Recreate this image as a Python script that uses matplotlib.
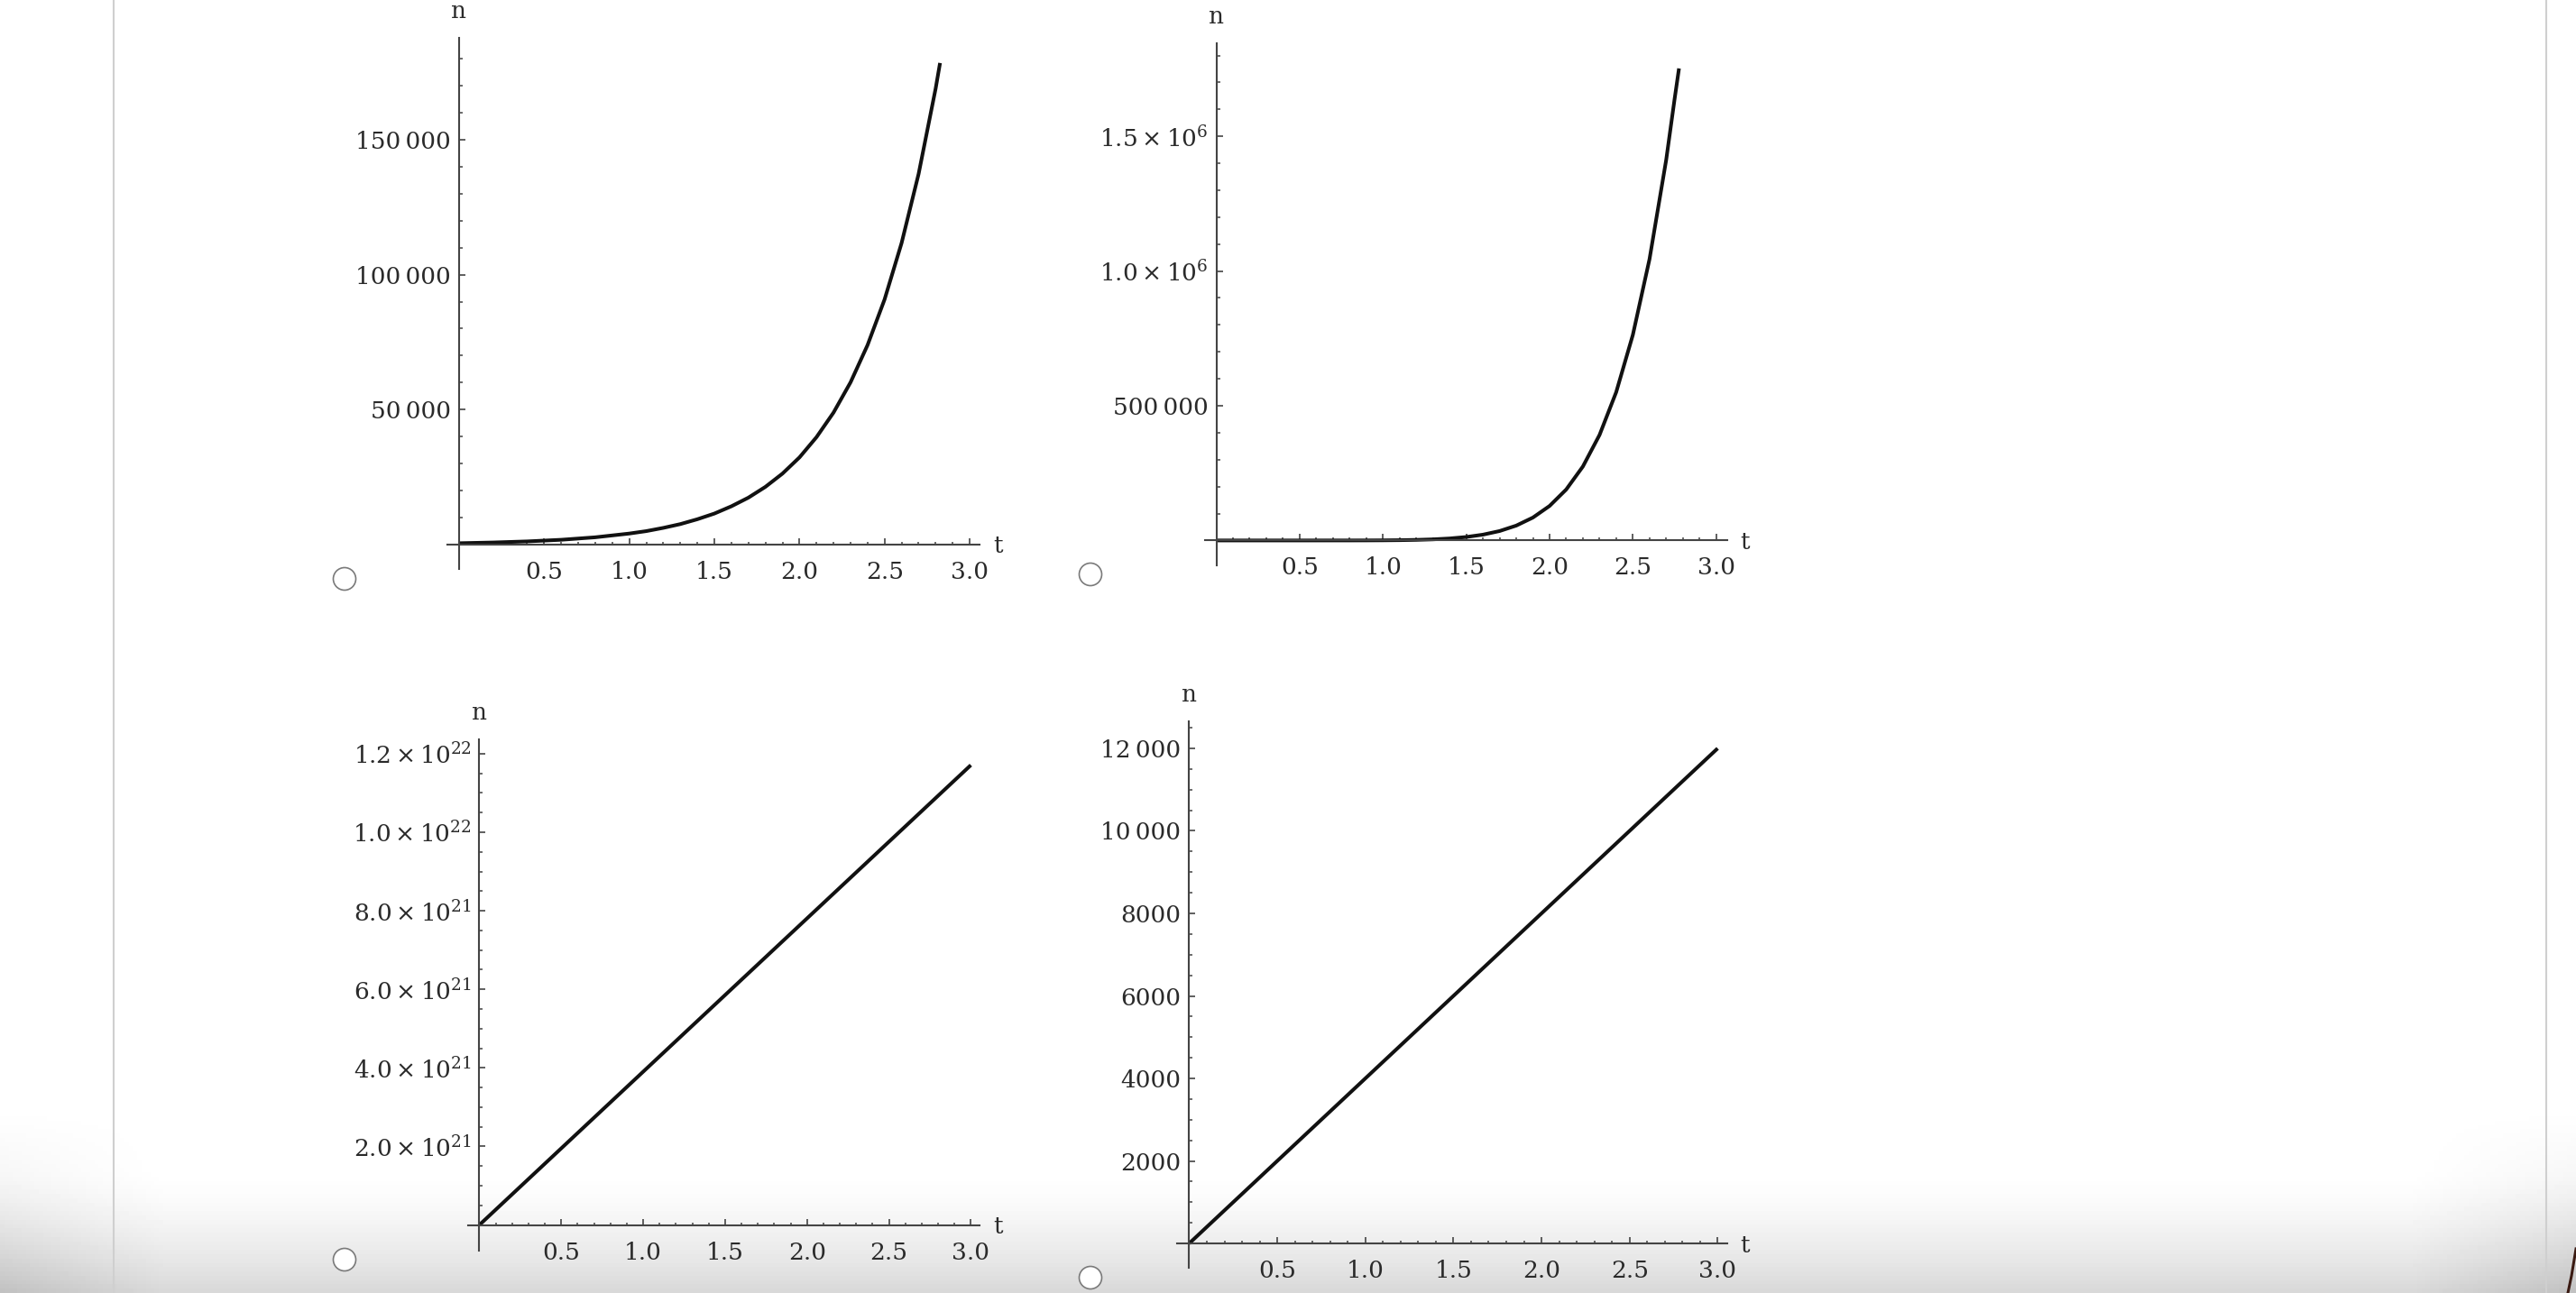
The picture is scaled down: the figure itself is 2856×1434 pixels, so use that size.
import numpy as np
import matplotlib.pyplot as plt
from matplotlib.patches import Circle

plt.rcParams['font.family'] = ['DejaVu Serif', 'DejaVu Sans']
plt.rcParams['mathtext.fontset'] = 'dejavuserif'

W, H = 2856, 1434
DPI = 100

# values
t_exp = [0.0, 0.2, 0.4, 0.6, 0.8, 1.0, 1.1, 1.2, 1.3, 1.4, 1.5, 1.6, 1.7, 1.8, 1.9,
         2.0, 2.1, 2.2, 2.3, 2.4, 2.5, 2.6, 2.7, 2.8, 2.826]
n_exp = [520, 790, 1190, 1790, 2710, 4100, 5000, 6200, 7600, 9400, 11500, 14200, 17400, 21400, 26300,
         32300, 39800, 48900, 60100, 73900, 90800, 111700, 137300, 168900, 178400]

t_pow = [0.0, 0.5, 0.8, 0.9, 1.0, 1.1, 1.2, 1.3, 1.4, 1.5, 1.6, 1.7, 1.8, 1.9,
         2.0, 2.1, 2.2, 2.3, 2.4, 2.5, 2.6, 2.7, 2.75, 2.777]
n_pow = [0, 2, 84, 215, 500, 1070, 2150, 4080, 7380, 12800, 21500, 34900, 55100, 84900,
         128000, 189100, 274400, 391600, 550400, 763000, 1044000, 1412000, 1636000, 1752000]

t_big = [0.0, 3.0]
n_big = [0.0, 1.171e22]

t_lin = [0.0, 3.0]
n_lin = [0, 12000]

x_major = [0.5, 1.0, 1.5, 2.0, 2.5, 3.0]
x_labels = ['0.5', '1.0', '1.5', '2.0', '2.5', '3.0']

y1_ticks = [50000, 100000, 150000]
y1_labels = ['50\u2009000', '100\u2009000', '150\u2009000']
y2_ticks = [500000, 1.0e6, 1.5e6]
y2_labels = ['500\u2009000', r'$1.0\times10^{6}$', r'$1.5\times10^{6}$']
y3_ticks = [2e21, 4e21, 6e21, 8e21, 1.0e22, 1.2e22]
y3_labels = [r'$2.0\times10^{21}$', r'$4.0\times10^{21}$', r'$6.0\times10^{21}$',
             r'$8.0\times10^{21}$', r'$1.0\times10^{22}$', r'$1.2\times10^{22}$']
y4_ticks = [2000, 4000, 6000, 8000, 10000, 12000]
y4_labels = ['2000', '4000', '6000', '8000', '10\u2009000', '12\u2009000']

AX = '#444444'
TXT = '#2a2a2a'

fig = plt.figure(figsize=(W / DPI, H / DPI), dpi=DPI)

# page background: frame lines, bottom shadow, radio buttons
bg = fig.add_axes([0, 0, 1, 1], zorder=0)
bg.set_xlim(0, W)
bg.set_ylim(H, 0)
bg.axis('off')
yy = np.linspace(0, H, 300)[:, None]
xx = np.linspace(0, W, 600)[None, :]
shade = np.clip((yy - 1300) / (H - 1300), 0, 1) ** 1.5 * 0.15
side = np.clip(1 - np.minimum(xx, W - xx) / 180, 0, 1) * np.clip((yy - 1230) / (H - 1230), 0, 1) * 0.09
img = 1 - shade - side
bg.imshow(img, cmap='gray', vmin=0, vmax=1, extent=(0, W, H, 0), aspect='auto', zorder=0)
bg.plot([126, 126], [0, H], color='#cfcfcf', lw=1.5, zorder=1)
bg.plot([2823, 2823], [0, H], color='#cfcfcf', lw=1.5, zorder=1)
bg.plot([2856, 2851, 2847], [1385, 1415, 1434], color='#3a1a12', lw=2.2, zorder=1)
for cx, cy in [(382, 642), (1209, 637), (382, 1397), (1209, 1417)]:
    bg.add_patch(Circle((cx, cy), 12.5, facecolor='white', edgecolor='#7a7a7a', lw=1.2, zorder=2))


def px(v):
    return v * 72 / DPI


def panel(box, xlim, ylim, t, n, yticks, ylabels, yminor):
    x0, x1, ytop, ybot = box
    ax = fig.add_axes([x0 / W, 1 - ybot / H, (x1 - x0) / W, (ybot - ytop) / H], zorder=2)
    ax.patch.set_alpha(0)
    ax.plot(t, n, color='#111111', lw=2.9, solid_capstyle='butt', solid_joinstyle='round', clip_on=False)
    ax.set_xlim(*xlim)
    ax.set_ylim(*ylim)
    for s in ['top', 'right']:
        ax.spines[s].set_visible(False)
    for s in ['left', 'bottom']:
        ax.spines[s].set_position(('data', 0))
        ax.spines[s].set_color(AX)
        ax.spines[s].set_linewidth(1.5)
    ax.set_xticks(x_major)
    ax.set_xticklabels(x_labels)
    ax.set_xticks([round(0.1 * i, 1) for i in range(1, 30) if i % 5], minor=True)
    ax.set_yticks(yticks)
    ax.set_yticklabels(ylabels)
    ax.set_yticks([v for v in yminor if v not in yticks], minor=True)
    ax.tick_params(which='major', direction='in', length=px(7), width=1.2, color=AX,
                   labelsize=19, labelcolor=TXT)
    ax.tick_params(which='minor', direction='in', length=px(3.5), width=1.1, color=AX)
    ax.tick_params(axis='x', which='major', pad=px(18))
    ax.tick_params(axis='y', which='major', pad=px(9))
    ax.annotate('n', xy=(0, ylim[1]), xytext=(0, px(22)), textcoords='offset points',
                ha='center', va='baseline', fontsize=19, color=TXT)
    ax.annotate('t', xy=(xlim[1], 0), xytext=(px(15), px(-2)), textcoords='offset points',
                ha='left', va='center', fontsize=19, color=TXT)
    return ax


panel((495.6, 1086, 42, 631), (-0.071, 3.058), (-9018, 187700), t_exp, n_exp,
      y1_ticks, y1_labels, [10000 * i for i in range(1, 19)])
panel((1335.6, 1914.7, 48.4, 627), (-0.070, 3.065), (-92400, 1844000), t_pow, n_pow,
      y2_ticks, y2_labels, [100000 * i for i in range(1, 19)])
panel((518.6, 1086, 819.8, 1387), (-0.071, 3.053), (-6.54e20, 1.237e22), t_big, n_big,
      y3_ticks, y3_labels, [5e20 * i for i in range(1, 25)])
panel((1305, 1914.7, 799.8, 1406), (-0.069, 3.053), (-590, 12660), t_lin, n_lin,
      y4_ticks, y4_labels, [500 * i for i in range(1, 26)])

fig.savefig('out.png', dpi=DPI)
